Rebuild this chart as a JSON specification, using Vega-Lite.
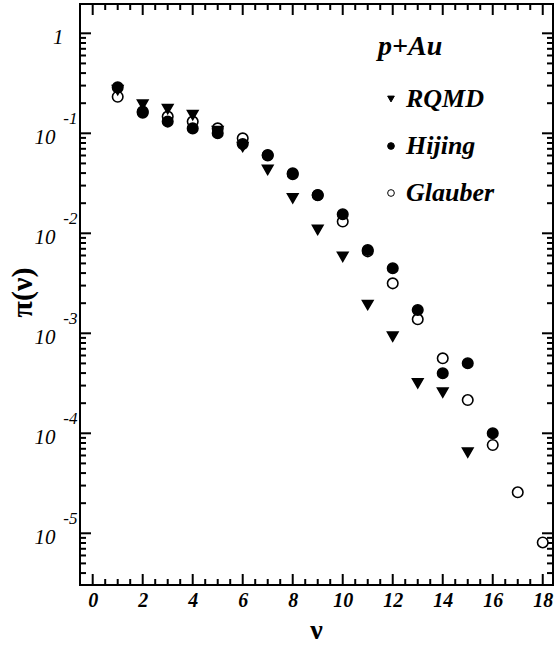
{
  "$schema": "https://vega.github.io/schema/vega-lite/v6.json",
  "width": 473,
  "height": 581,
  "autosize": "none",
  "padding": {"left": 80, "top": 4, "right": 2, "bottom": 65},
  "background": "white",
  "config": {
    "view": {"stroke": "black", "strokeWidth": 2},
    "axis": {"domain": false, "ticks": false, "grid": false, "labelColor": "black", "titleColor": "black", "labelFlush": false, "labelOverlap": false}
  },
  "datasets": {
    "pts": [
      {"model": "Glauber", "nu": 1, "pi": 0.232},
      {"model": "Glauber", "nu": 2, "pi": 0.165},
      {"model": "Glauber", "nu": 3, "pi": 0.147},
      {"model": "Glauber", "nu": 4, "pi": 0.131},
      {"model": "Glauber", "nu": 5, "pi": 0.112},
      {"model": "Glauber", "nu": 6, "pi": 0.089},
      {"model": "Glauber", "nu": 7, "pi": 0.06},
      {"model": "Glauber", "nu": 8, "pi": 0.039},
      {"model": "Glauber", "nu": 9, "pi": 0.024},
      {"model": "Glauber", "nu": 10, "pi": 0.0131},
      {"model": "Glauber", "nu": 11, "pi": 0.0066},
      {"model": "Glauber", "nu": 12, "pi": 0.00316},
      {"model": "Glauber", "nu": 13, "pi": 0.00138},
      {"model": "Glauber", "nu": 14, "pi": 0.000562},
      {"model": "Glauber", "nu": 15, "pi": 0.000215},
      {"model": "Glauber", "nu": 16, "pi": 0.0000764},
      {"model": "Glauber", "nu": 17, "pi": 0.0000257},
      {"model": "Glauber", "nu": 18, "pi": 0.0000081},
      {"model": "RQMD", "nu": 1, "pi": 0.27},
      {"model": "RQMD", "nu": 2, "pi": 0.194},
      {"model": "RQMD", "nu": 3, "pi": 0.175},
      {"model": "RQMD", "nu": 4, "pi": 0.152},
      {"model": "RQMD", "nu": 5, "pi": 0.105},
      {"model": "RQMD", "nu": 6, "pi": 0.073},
      {"model": "RQMD", "nu": 7, "pi": 0.043},
      {"model": "RQMD", "nu": 8, "pi": 0.0224},
      {"model": "RQMD", "nu": 9, "pi": 0.0108},
      {"model": "RQMD", "nu": 10, "pi": 0.00583},
      {"model": "RQMD", "nu": 11, "pi": 0.00192},
      {"model": "RQMD", "nu": 12, "pi": 0.000925},
      {"model": "RQMD", "nu": 13, "pi": 0.000316},
      {"model": "RQMD", "nu": 14, "pi": 0.000255},
      {"model": "RQMD", "nu": 15, "pi": 0.000064},
      {"model": "Hijing", "nu": 1, "pi": 0.288},
      {"model": "Hijing", "nu": 2, "pi": 0.161},
      {"model": "Hijing", "nu": 3, "pi": 0.131},
      {"model": "Hijing", "nu": 4, "pi": 0.112},
      {"model": "Hijing", "nu": 5, "pi": 0.1},
      {"model": "Hijing", "nu": 6, "pi": 0.078},
      {"model": "Hijing", "nu": 7, "pi": 0.0607},
      {"model": "Hijing", "nu": 8, "pi": 0.0398},
      {"model": "Hijing", "nu": 9, "pi": 0.0242},
      {"model": "Hijing", "nu": 10, "pi": 0.0155},
      {"model": "Hijing", "nu": 11, "pi": 0.0068},
      {"model": "Hijing", "nu": 12, "pi": 0.00447},
      {"model": "Hijing", "nu": 13, "pi": 0.00171},
      {"model": "Hijing", "nu": 14, "pi": 0.000398},
      {"model": "Hijing", "nu": 15, "pi": 0.000501},
      {"model": "Hijing", "nu": 16, "pi": 0.0001}
    ]
  },
  "resolve": {"axis": {"x": "independent", "y": "independent"}},
  "layer": [
    {
      "data": {"name": "pts"},
      "mark": {"type": "point", "opacity": 0},
      "encoding": {
        "x": {"field": "nu", "type": "quantitative", "scale": {"domain": [-0.508, 18.41], "nice": false, "zero": false}, "axis": null},
        "y": {
          "field": "pi", "type": "quantitative",
          "scale": {"type": "log", "domain": [0.00000304, 1.964], "nice": false, "zero": false},
          "axis": {
            "orient": "left",
            "values": [0.00001, 0.0001, 0.001, 0.01, 0.1],
            "labelExpr": "'-' + toString(-round(log(datum.value)/LN10))",
            "labelFont": "Liberation Serif", "labelFontSize": 17, "labelFontStyle": "italic",
            "labelPadding": 3, "labelOffset": -15,
            "title": null
          }
        }
      }
    },
    {
      "data": {"values": [
        {"v": 0, "k": "M"}, {"v": 0.5, "k": "m"}, {"v": 1, "k": "m"}, {"v": 1.5, "k": "m"},
        {"v": 2, "k": "M"}, {"v": 2.5, "k": "m"}, {"v": 3, "k": "m"}, {"v": 3.5, "k": "m"},
        {"v": 4, "k": "M"}, {"v": 4.5, "k": "m"}, {"v": 5, "k": "m"}, {"v": 5.5, "k": "m"},
        {"v": 6, "k": "M"}, {"v": 6.5, "k": "m"}, {"v": 7, "k": "m"}, {"v": 7.5, "k": "m"},
        {"v": 8, "k": "M"}, {"v": 8.5, "k": "m"}, {"v": 9, "k": "m"}, {"v": 9.5, "k": "m"},
        {"v": 10, "k": "M"}, {"v": 10.5, "k": "m"}, {"v": 11, "k": "m"}, {"v": 11.5, "k": "m"},
        {"v": 12, "k": "M"}, {"v": 12.5, "k": "m"}, {"v": 13, "k": "m"}, {"v": 13.5, "k": "m"},
        {"v": 14, "k": "M"}, {"v": 14.5, "k": "m"}, {"v": 15, "k": "m"}, {"v": 15.5, "k": "m"},
        {"v": 16, "k": "M"}, {"v": 16.5, "k": "m"}, {"v": 17, "k": "m"}, {"v": 17.5, "k": "m"},
        {"v": 18, "k": "M"}
      ]},
      "layer": [
        {
          "mark": {"type": "point", "shape": "M0,0L0,-2", "filled": false, "stroke": "black", "strokeWidth": 2, "opacity": 1},
          "encoding": {
            "x": {"field": "v", "type": "quantitative", "scale": {"domain": [-0.508, 18.41], "nice": false, "zero": false}, "axis": null},
            "y": {"datum": 0.00000304, "type": "quantitative", "scale": {"type": "log", "domain": [0.00000304, 1.964], "nice": false, "zero": false}, "axis": null},
            "size": {"field": "k", "type": "nominal", "scale": {"domain": ["M", "m"], "range": [121, 36]}, "legend": null}
          }
        },
        {
          "mark": {"type": "point", "shape": "M0,0L0,2", "filled": false, "stroke": "black", "strokeWidth": 2, "opacity": 1},
          "encoding": {
            "x": {"field": "v", "type": "quantitative", "scale": {"domain": [-0.508, 18.41], "nice": false, "zero": false}, "axis": null},
            "y": {"datum": 1.964, "type": "quantitative", "scale": {"type": "log", "domain": [0.00000304, 1.964], "nice": false, "zero": false}, "axis": null},
            "size": {"field": "k", "type": "nominal", "scale": {"domain": ["M", "m"], "range": [121, 36]}, "legend": null}
          }
        }
      ]
    },
    {
      "data": {"values": [
        {"v": 0.000004, "k": "m"}, {"v": 0.000005, "k": "m"}, {"v": 0.000006, "k": "m"}, {"v": 0.000007, "k": "m"}, {"v": 0.000008, "k": "m"}, {"v": 0.000009, "k": "m"},
        {"v": 0.00001, "k": "M"}, {"v": 0.00002, "k": "m"}, {"v": 0.00003, "k": "m"}, {"v": 0.00004, "k": "m"}, {"v": 0.00005, "k": "m"}, {"v": 0.00006, "k": "m"}, {"v": 0.00007, "k": "m"}, {"v": 0.00008, "k": "m"}, {"v": 0.00009, "k": "m"},
        {"v": 0.0001, "k": "M"}, {"v": 0.0002, "k": "m"}, {"v": 0.0003, "k": "m"}, {"v": 0.0004, "k": "m"}, {"v": 0.0005, "k": "m"}, {"v": 0.0006, "k": "m"}, {"v": 0.0007, "k": "m"}, {"v": 0.0008, "k": "m"}, {"v": 0.0009, "k": "m"},
        {"v": 0.001, "k": "M"}, {"v": 0.002, "k": "m"}, {"v": 0.003, "k": "m"}, {"v": 0.004, "k": "m"}, {"v": 0.005, "k": "m"}, {"v": 0.006, "k": "m"}, {"v": 0.007, "k": "m"}, {"v": 0.008, "k": "m"}, {"v": 0.009, "k": "m"},
        {"v": 0.01, "k": "M"}, {"v": 0.02, "k": "m"}, {"v": 0.03, "k": "m"}, {"v": 0.04, "k": "m"}, {"v": 0.05, "k": "m"}, {"v": 0.06, "k": "m"}, {"v": 0.07, "k": "m"}, {"v": 0.08, "k": "m"}, {"v": 0.09, "k": "m"},
        {"v": 0.1, "k": "M"}, {"v": 0.2, "k": "m"}, {"v": 0.3, "k": "m"}, {"v": 0.4, "k": "m"}, {"v": 0.5, "k": "m"}, {"v": 0.6, "k": "m"}, {"v": 0.7, "k": "m"}, {"v": 0.8, "k": "m"}, {"v": 0.9, "k": "m"},
        {"v": 1, "k": "M"}
      ]},
      "layer": [
        {
          "mark": {"type": "point", "shape": "M0,0L2,0", "filled": false, "stroke": "black", "strokeWidth": 2, "opacity": 1},
          "encoding": {
            "x": {"datum": -0.508, "type": "quantitative", "scale": {"domain": [-0.508, 18.41], "nice": false, "zero": false}, "axis": null},
            "y": {"field": "v", "type": "quantitative", "scale": {"type": "log", "domain": [0.00000304, 1.964], "nice": false, "zero": false}, "axis": null},
            "size": {"field": "k", "type": "nominal", "scale": {"domain": ["M", "m"], "range": [121, 36]}, "legend": null}
          }
        },
        {
          "mark": {"type": "point", "shape": "M0,0L-2,0", "filled": false, "stroke": "black", "strokeWidth": 2, "opacity": 1},
          "encoding": {
            "x": {"datum": 18.41, "type": "quantitative", "scale": {"domain": [-0.508, 18.41], "nice": false, "zero": false}, "axis": null},
            "y": {"field": "v", "type": "quantitative", "scale": {"type": "log", "domain": [0.00000304, 1.964], "nice": false, "zero": false}, "axis": null},
            "size": {"field": "k", "type": "nominal", "scale": {"domain": ["M", "m"], "range": [121, 36]}, "legend": null}
          }
        }
      ]
    },
    {
      "data": {"name": "pts"},
      "mark": {"type": "point", "filled": false, "size": 110, "strokeWidth": 1.6, "opacity": 1},
      "encoding": {
        "x": {
          "field": "nu", "type": "quantitative",
          "scale": {"domain": [-0.508, 18.41], "nice": false, "zero": false},
          "axis": {
            "orient": "bottom",
            "values": [0,2,4,6,8,10,12,14,16,18],
            "format": "d",
            "labelFont": "Liberation Serif", "labelFontSize": 20, "labelFontStyle": "italic", "labelFontWeight": "bold",
            "labelPadding": 5,
            "title": "ν", "titleFont": "Liberation Serif", "titleFontSize": 28, "titleFontWeight": "bold",
            "titleX": 236, "titleY": 45, "titleBaseline": "middle", "titleAlign": "center"
          }
        },
        "y": {
          "field": "pi", "type": "quantitative",
          "scale": {"type": "log", "domain": [0.00000304, 1.964], "nice": false, "zero": false},
          "axis": {
            "orient": "left",
            "values": [0.00001, 0.0001, 0.001, 0.01, 0.1, 1],
            "labelExpr": "datum.value == 1 ? '1' : '10'",
            "labelFont": "Liberation Serif", "labelFontSize": 21, "labelFontStyle": "italic",
            "labelPadding": {"condition": {"test": "datum.value == 1", "value": 17}, "value": 25},
            "labelOffset": 4,
            "title": "π(ν)", "titleFont": "Liberation Serif", "titleFontSize": 30, "titleFontWeight": "bold",
            "titleX": -58, "titleY": 288, "titleAngle": -90, "titleBaseline": "middle", "titleAlign": "center"
          }
        },
        "shape": {
          "field": "model", "type": "nominal",
          "scale": {"domain": ["RQMD", "Hijing", "Glauber"], "range": ["triangle-down", "circle", "circle"]},
          "legend": {
            "title": "p+Au", "orient": "none", "legendX": 298, "legendY": 29, "padding": 0,
            "titleFont": "Liberation Serif", "titleFontSize": 28, "titleFontStyle": "italic", "titleFontWeight": "bold", "titlePadding": 25,
            "labelFont": "Liberation Serif", "labelFontSize": 26, "labelFontStyle": "italic", "labelFontWeight": "bold",
            "symbolSize": 45, "symbolStrokeWidth": 1, "rowPadding": 21, "labelOffset": 2
          }
        },
        "fill": {
          "field": "model", "type": "nominal",
          "scale": {"domain": ["RQMD", "Hijing", "Glauber"], "range": ["black", "black", "white"]},
          "legend": {
            "title": "p+Au", "orient": "none", "legendX": 298, "legendY": 29, "padding": 0,
            "titleFont": "Liberation Serif", "titleFontSize": 28, "titleFontStyle": "italic", "titleFontWeight": "bold", "titlePadding": 25,
            "labelFont": "Liberation Serif", "labelFontSize": 26, "labelFontStyle": "italic", "labelFontWeight": "bold",
            "symbolSize": 45, "symbolStrokeWidth": 1, "rowPadding": 21, "labelOffset": 2
          }
        },
        "stroke": {
          "field": "model", "type": "nominal",
          "scale": {"domain": ["RQMD", "Hijing", "Glauber"], "range": ["black", "black", "black"]},
          "legend": {
            "title": "p+Au", "orient": "none", "legendX": 298, "legendY": 29, "padding": 0,
            "titleFont": "Liberation Serif", "titleFontSize": 28, "titleFontStyle": "italic", "titleFontWeight": "bold", "titlePadding": 25,
            "labelFont": "Liberation Serif", "labelFontSize": 26, "labelFontStyle": "italic", "labelFontWeight": "bold",
            "symbolSize": 45, "symbolStrokeWidth": 1, "rowPadding": 21, "labelOffset": 2
          }
        }
      }
    }
  ]
}
